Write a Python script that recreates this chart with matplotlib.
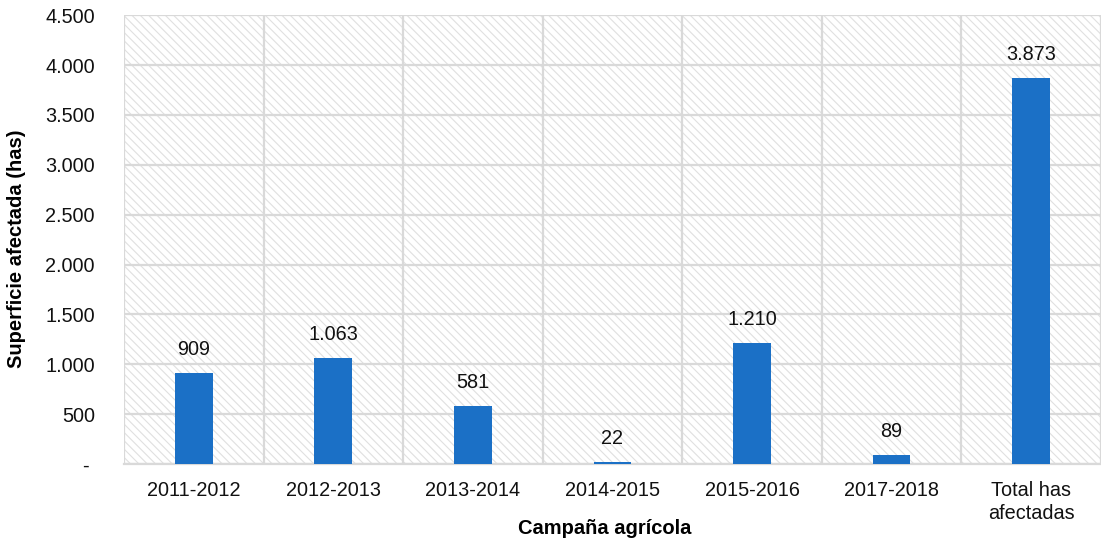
import numpy as np
import matplotlib
matplotlib.use("Agg")
import matplotlib.pyplot as plt

# --- DATA ---
CAMPANIAS = ["2011-2012", "2012-2013", "2013-2014", "2014-2015",
             "2015-2016", "2017-2018", "Total has\nafectadas"]
SUPERFICIE = [909, 1063, 581, 22, 1210, 89, 3873]
Y_TICKS = [0, 500, 1000, 1500, 2000, 2500, 3000, 3500, 4000, 4500]

BAR_COLOR = "#1B70C6"
GRID_COLOR = "#D9D9D9"

plt.rcParams["font.family"] = ["Liberation Sans", "DejaVu Sans"]
plt.rcParams["hatch.color"] = "#E0E0E0"
plt.rcParams["hatch.linewidth"] = 0.8


def fmt_miles(v):
    # formato contable: cero como guion
    if v == 0:
        return "- "
    return f"{v:,.0f}".replace(",", ".")


fig = plt.figure(figsize=(11.01, 5.44), dpi=100)
ax = fig.add_axes([0.1126, 0.147, 0.8874, 0.825])

# fondo rayado
bg = plt.Rectangle((0, 0), 1, 1, transform=ax.transAxes, facecolor="white",
                   edgecolor="#E0E0E0", linewidth=0, hatch="\\\\\\\\", zorder=0)
ax.add_patch(bg)

x = np.arange(len(CAMPANIAS))
ax.bar(x, SUPERFICIE, width=0.27, color=BAR_COLOR, zorder=3)

for xi, v in zip(x, SUPERFICIE):
    ax.annotate(fmt_miles(v), (xi, v), xytext=(0, 10), textcoords="offset points",
                ha="center", va="bottom", fontsize=14.3, color="#111111")

ax.set_xlim(-0.5, len(CAMPANIAS) - 0.5)
ax.set_ylim(0, 4500)
ax.set_yticks(Y_TICKS)
ax.set_yticklabels([fmt_miles(t) for t in Y_TICKS])
ax.set_xticks(x)
ax.set_xticklabels(CAMPANIAS, linespacing=1.3)
ax.set_xticks(np.arange(-0.5, len(CAMPANIAS), 1), minor=True)

ax.set_axisbelow(True)
ax.grid(axis="y", which="major", color=GRID_COLOR, linewidth=1.6, zorder=1)
ax.grid(axis="x", which="minor", color=GRID_COLOR, linewidth=1.6, zorder=1)
ax.grid(axis="x", which="major", visible=False)

for s in ["top", "right", "left"]:
    ax.spines[s].set_visible(False)
ax.spines["bottom"].set_color(GRID_COLOR)
ax.spines["bottom"].set_linewidth(1.6)

ax.tick_params(axis="both", which="both", length=0, labelsize=14.3, colors="#111111")
ax.tick_params(axis="y", pad=21)
ax.tick_params(axis="x", pad=12)

ax.set_ylabel("Superficie afectada (has)", fontsize=14.5, fontweight="bold")
ax.yaxis.set_label_coords(-0.1003, 0.479)
ax.set_xlabel("Campaña agrícola", fontsize=14.5, fontweight="bold")
ax.xaxis.set_label_coords(0.492, -0.1225)

fig.savefig("out.png", dpi=100)
